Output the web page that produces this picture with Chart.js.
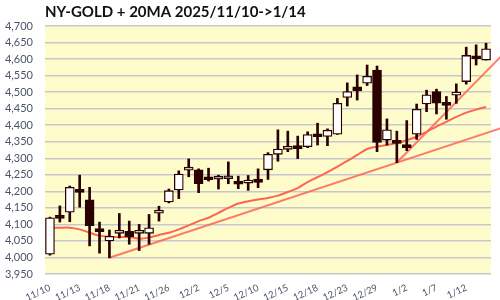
<!DOCTYPE html>
<html>
<head>
<meta charset="utf-8">
<script src="https://cdn.jsdelivr.net/npm/chart.js@4.4.1/dist/chart.umd.min.js"></script>
<style>
  html, body { margin: 0; padding: 0; background: #fff; }
</style>
</head>
<body>
<canvas id="chart" width="500" height="300"></canvas>
<script>
const titleText = 'NY-GOLD + 20MA 2025/11/10->1/14';

// trading days shown on the chart
const dates = ['11/10','11/11','11/12','11/13','11/14','11/17','11/18','11/19','11/20','11/21',
  '11/24','11/25','11/26','11/28','12/1','12/2','12/3','12/4','12/5','12/8',
  '12/9','12/10','12/11','12/12','12/15','12/16','12/17','12/18','12/19','12/22',
  '12/23','12/24','12/26','12/29','12/30','12/31','1/2','1/5','1/6','1/7',
  '1/8','1/9','1/12','1/13','1/14'];
const tickLabels = ['11/10','11/13','11/18','11/21','11/26','12/2','12/5','12/10','12/15','12/18','12/23','12/29','1/2','1/7','1/12'];

const open  = [4010,4122,4137,4201,4174,4082,4050,4073,4079,4073, 4073,4134,4168,4204,4264,4265,4239,4237,4238,4227,
               4225,4237,4265,4312,4327,4335,4335,4370,4366,4373, 4484,4516,4527,4567,4355,4350,4339,4373,4464,4502,
               4466,4491,4532,4607,4597];
const high  = [4122,4156,4216,4249,4212,4107,4083,4133,4110,4100, 4130,4155,4207,4262,4298,4268,4270,4249,4289,4246,
               4248,4268,4317,4386,4382,4367,4380,4406,4389,4481, 4528,4552,4582,4579,4419,4382,4414,4464,4506,4509,
               4487,4525,4636,4643,4648];
const low   = [4007,4107,4108,4152,4035,4013,3999,4059,4040,4021, 4040,4110,4165,4178,4244,4196,4231,4207,4223,4208,
               4203,4211,4236,4291,4320,4299,4332,4340,4338,4372, 4458,4476,4520,4320,4340,4287,4323,4357,4441,4434,
               4418,4466,4524,4582,4597];
const close = [4120,4118,4212,4197,4096,4078,4064,4082,4063,4080, 4090,4140,4202,4252,4273,4223,4235,4237,4238,4222,
               4233,4227,4312,4328,4334,4329,4372,4365,4385,4466, 4502,4504,4548,4348,4386,4345,4332,4448,4492,4467,
               4460,4498,4611,4601,4631];
const ma20  = [4090,4090,4090,4085,4075,4066,4063,4062,4062,4057, 4060,4068,4075,4085,4097,4110,4120,4135,4150,4163,
               4170,4175,4180,4187,4198,4210,4228,4243,4258,4275, 4292,4310,4328,4335,4340,4346,4355,4365,4380,4396,
               4410,4425,4438,4447,4455];
// hand-drawn trend lines: [day index, price] from a low out past the last day
const trendLow  = [[6, 3999], [45.5, 4391]];
const trendStep = [[35, 4287], [45.5, 4608]];

const dark = '#2a0000';

const bodyColors = open.map((o, i) => close[i] > o ? '#ffffff' : close[i] < o ? dark : '#9a9a9a');

const plotBg = {
  id: 'plotBg',
  beforeDraw(chart) {
    const { ctx, chartArea: a } = chart;
    ctx.save();
    ctx.fillStyle = '#fffccc';
    ctx.fillRect(a.left, a.top, a.width, a.height);
    ctx.restore();
  }
};

// title starts at the plot's left edge, not the canvas edge
const leftTitle = {
  id: 'leftTitle',
  afterDraw(chart) {
    const { ctx, chartArea: a } = chart;
    ctx.save();
    ctx.font = 'bold 15px Lato';
    ctx.fillStyle = '#111';
    ctx.textBaseline = 'alphabetic';
    ctx.fillText(titleText, a.left, 17);
    ctx.restore();
  }
};

new Chart(document.getElementById('chart'), {
  type: 'bar',
  data: {
    datasets: [
      {
        label: 'body',
        data: open.map((o, i) => ({ x: i, y: [o, close[i]] })),
        backgroundColor: bodyColors,
        borderColor: dark,
        borderWidth: 1.3,
        borderSkipped: false,
        barThickness: 9,
        minBarLength: 3,
        grouped: false,
        order: 0
      },
      {
        label: 'wick',
        data: low.map((l, i) => ({ x: i, y: [l, high[i]] })),
        backgroundColor: dark,
        borderWidth: 0,
        barThickness: 2,
        grouped: false,
        order: 1
      },
      {
        type: 'line',
        label: '20MA',
        data: ma20.map((v, i) => ({ x: i, y: v })),
        borderColor: '#ff6450',
        borderWidth: 2,
        pointRadius: 0,
        tension: 0.3,
        order: 2
      },
      {
        type: 'line',
        label: 'trend1',
        data: trendLow.map(p => ({ x: p[0], y: p[1] })),
        borderColor: 'rgba(255,100,85,0.85)',
        borderWidth: 2,
        pointRadius: 0,
        clip: false,
        order: 3
      },
      {
        type: 'line',
        label: 'trend2',
        data: trendStep.map(p => ({ x: p[0], y: p[1] })),
        borderColor: 'rgba(255,100,85,0.85)',
        borderWidth: 2,
        pointRadius: 0,
        clip: false,
        order: 4
      }
    ]
  },
  options: {
    responsive: false,
    animation: false,
    layout: { padding: { left: 5, right: 9, top: 26, bottom: 0 } },
    plugins: {
      legend: { display: false },
      tooltip: { enabled: false },
      title: { display: false }
    },
    scales: {
      x: {
        type: 'linear',
        offset: false,
        min: -0.5,
        max: 44.5,
        grid: { display: false, drawTicks: false },
        border: { display: false },
        afterBuildTicks(axis) {
          axis.ticks = tickLabels.map(t => ({ value: dates.indexOf(t) }));
        },
        afterFit(axis) { axis.height = 26; },
        ticks: {
          autoSkip: false,
          minRotation: 25,
          maxRotation: 25,
          padding: 8,
          color: '#4a5468',
          font: { family: 'Lato', size: 9.5 },
          callback: v => dates[v]
        }
      },
      y: {
        min: 3950,
        max: 4700,
        border: { display: false },
        grid: { color: '#c8c8cc', lineWidth: 1.5, drawTicks: false },
        afterFit(axis) { axis.width = 40; },
        ticks: {
          stepSize: 50,
          autoSkip: false,
          padding: 12,
          color: '#4a5468',
          font: { family: 'Lato', size: 11 },
          callback: v => v.toLocaleString('en-US')
        }
      }
    }
  },
  plugins: [plotBg, leftTitle]
});
</script>
</body>
</html>
